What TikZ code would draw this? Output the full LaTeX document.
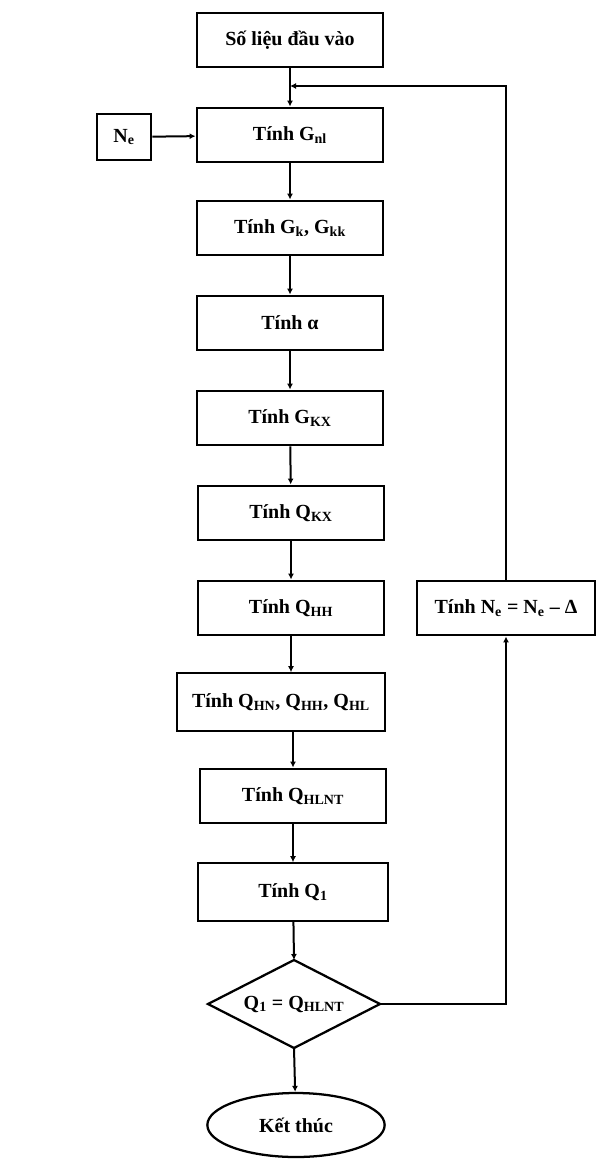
\documentclass[tikz,border=0pt]{standalone}
\usepackage{fontspec}
\setmainfont{Liberation Serif}
\usetikzlibrary{shapes.geometric,arrows.meta}
\newcommand{\lsub}[1]{\textsubscript{#1}}
\begin{document}
\begin{tikzpicture}[x=0.75pt,y=-0.75pt,
  blk/.style={draw, line width=1.7pt, rectangle, inner sep=0pt, minimum height=41pt, minimum width=140pt, font=\fontsize{15}{17}\selectfont\bfseries},
  txt/.style={inner sep=0pt, font=\fontsize{15}{17}\selectfont\bfseries},
  term/.style={draw, ellipse, line width=1.7pt, inner sep=0pt, minimum width=133pt, minimum height=48pt, font=\fontsize{15}{17}\selectfont\bfseries},
  conn/.style={line width=1.5pt, -{Latex[length=4.5pt,width=4.5pt]}},
  ln/.style={line width=1.5pt},
  outline/.style={line width=1.7pt, line join=miter}]
\useasboundingbox[fill=white] (0,0) rectangle (598,1161);
\node[blk] (start) at (290,40) {Số liệu đầu vào};
\node[blk, minimum width=41pt, minimum height=35pt] (ne) at (124,137) {N\lsub{e}};
\node[blk] (gnl) at (290,135) {Tính G\lsub{nl}};
\node[blk] (gk) at (290,228) {Tính G\lsub{k}, G\lsub{kk}};
\node[blk] (alpha) at (290,323) {Tính α};
\node[blk] (gkx) at (290,418) {Tính G\lsub{KX}};
\node[blk] (qkx) at (291,513) {Tính Q\lsub{KX}};
\node[blk] (qhh) at (291,608) {Tính Q\lsub{HH}};
\node[blk, minimum width=134pt] (ne2) at (506,608) {Tính N\lsub{e} = N\lsub{e} – Δ};
\node[blk, minimum width=156pt, minimum height=43pt] (qhn) at (281,702) {Tính Q\lsub{HN}, Q\lsub{HH}, Q\lsub{HL}};
\node[blk] (qhlnt) at (293,796) {Tính Q\lsub{HLNT}};
\node[blk, minimum width=142pt, minimum height=43pt] (q1) at (293,892) {Tính Q\lsub{1}};
% decision diamond
\coordinate (dtop) at (294,960);
\coordinate (dright) at (380,1004);
\coordinate (dbot) at (294,1048);
\coordinate (dleft) at (208,1004);
\draw[outline] (dtop) -- (dright) -- (dbot) -- (dleft) -- cycle;
\node[txt] (dec) at (294,1004) {Q\lsub{1} = Q\lsub{HLNT}};
\node[term] (fin) at (296,1125) {Kết thúc};
\coordinate (j) at (290,86);
\coordinate (tr) at (506,86);
\coordinate (br) at (506,1004);
\draw[ln] (start) -- (j);
\draw[conn] (j) -- (gnl);
\draw[conn] (ne2) -- (tr) -- (j);
\draw[conn] (ne) -- (gnl);
\draw[conn] (gnl) -- (gk);
\draw[conn] (gk) -- (alpha);
\draw[conn] (alpha) -- (gkx);
\draw[conn] (gkx) -- (qkx);
\draw[conn] (qkx) -- (qhh);
\draw[conn] (qhh.south) -- (qhh.south |- qhn.north);
\draw[conn] (qhlnt.north |- qhn.south) -- (qhlnt.north);
\draw[conn] (qhlnt) -- (q1);
\draw[conn] (q1) -- (dtop);
\draw[conn] (dbot) -- (fin);
\draw[conn] (dright) -- (br) -- (ne2);
\end{tikzpicture}
\end{document}
